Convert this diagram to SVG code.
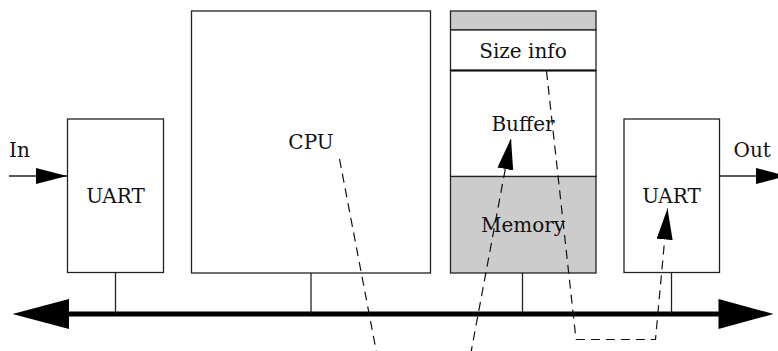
<svg xmlns="http://www.w3.org/2000/svg" width="778" height="351" viewBox="0 0 778 351">
<style>
.box{fill:#fff;stroke:#222;stroke-width:1.3}
.gray{fill:#cccccc;stroke:#222;stroke-width:1.3}
.lbl{font-family:"DejaVu Serif","Liberation Serif",serif;font-size:20px;fill:#111;text-anchor:middle}
.thin{stroke:#222;stroke-width:1.3;fill:none}
.dash{stroke:#111;stroke-width:1.2;fill:none;stroke-dasharray:9,6}
</style>
<defs>
<marker id="ah" viewBox="0 0 31 16" refX="31" refY="8" markerWidth="31" markerHeight="16" markerUnits="userSpaceOnUse" orient="auto">
<path d="M0,0 L31,8 L0,16 Z" fill="#000"/>
</marker>
<marker id="ahd" viewBox="0 0 31 16" refX="31" refY="8" markerWidth="31" markerHeight="16" markerUnits="userSpaceOnUse" orient="auto">
<path d="M0,0 L31,8 L0,16 Z" fill="#000"/>
</marker>
</defs>
<g id="bus">
<line x1="68" y1="314" x2="720" y2="314" stroke="#000" stroke-width="5"/>
<path d="M12.5,314 L69,299 L69,329 Z" fill="#000"/>
<path d="M773.5,314 L718.5,299 L718.5,329 Z" fill="#000"/>
</g>
<g id="uart-in">
<rect class="box" x="67.5" y="119" width="96" height="153.5"/>
<text class="lbl" x="115.5" y="202.5">UART</text>
</g>
<g id="cpu">
<rect class="box" x="191.5" y="11" width="239" height="262"/>
<text class="lbl" x="311" y="149">CPU</text>
</g>
<g id="memory">
<rect class="gray" x="450.5" y="11" width="145.5" height="19"/>
<rect class="box" x="450.5" y="30" width="145.5" height="40.5"/>
<rect class="box" x="450.5" y="70.5" width="145.5" height="106"/>
<rect class="gray" x="450.5" y="176.5" width="145.5" height="96.5"/>
<line x1="450.5" y1="70.5" x2="596" y2="70.5" stroke="#111" stroke-width="2"/>
<text class="lbl" x="523" y="57.5">Size info</text>
<text class="lbl" x="523" y="131">Buffer</text>
<text class="lbl" x="523" y="232">Memory</text>
</g>
<g id="uart-out">
<rect class="box" x="624" y="119" width="95.5" height="153.5"/>
<text class="lbl" x="671.5" y="202.5">UART</text>
</g>
<g id="connectors">
<line class="thin" x1="115.5" y1="272.5" x2="115.5" y2="313"/>
<line class="thin" x1="311" y1="273" x2="311" y2="313"/>
<line class="thin" x1="522.5" y1="273" x2="522.5" y2="313"/>
<line class="thin" x1="671.5" y1="272.5" x2="671.5" y2="313"/>
<line class="thin" x1="9" y1="176" x2="67" y2="176" marker-end="url(#ah)"/>
<line class="thin" x1="719.5" y1="176" x2="787" y2="176" marker-end="url(#ah)"/>
<polyline class="dash" points="339.5,159 377,355"/>
<polyline class="dash" points="470.5,355 511,138.5" marker-end="url(#ahd)"/>
<polyline class="dash" points="546.5,71 576,339.5 655.5,339.5 667.5,208.5" marker-end="url(#ahd)"/>
</g>
<g id="labels">
<text class="lbl" x="9" y="156.5" style="text-anchor:start">In</text>
<text class="lbl" x="733.5" y="156.5" style="text-anchor:start">Out</text>
</g>
</svg>
